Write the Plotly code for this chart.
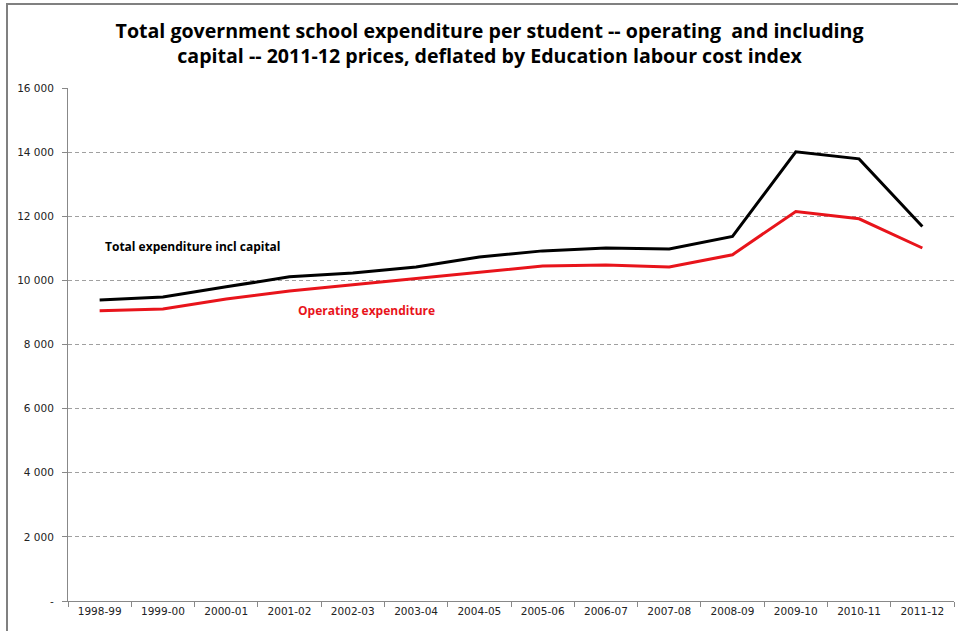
import plotly.graph_objects as go

years = ["1998-99", "1999-00", "2000-01", "2001-02", "2002-03", "2003-04", "2004-05",
         "2005-06", "2006-07", "2007-08", "2008-09", "2009-10", "2010-11", "2011-12"]
total_incl_capital = [9390, 9480, 9800, 10110, 10230, 10420, 10730,
                      10920, 11010, 10980, 11370, 14010, 13790, 11680]
operating = [9050, 9110, 9420, 9670, 9860, 10050, 10260,
             10450, 10480, 10420, 10800, 12150, 11920, 11010]
ytick_vals = [0, 2000, 4000, 6000, 8000, 10000, 12000, 14000, 16000]
ytick_text = ["-", "2 000", "4 000", "6 000", "8 000", "10 000", "12 000", "14 000", "16 000"]

fig = go.Figure()
fig.add_trace(go.Scatter(x=years, y=total_incl_capital, mode="lines",
                         line=dict(color="#000000", width=3), name="Total expenditure incl capital"))
fig.add_trace(go.Scatter(x=years, y=operating, mode="lines",
                         line=dict(color="#E8141B", width=3), name="Operating expenditure"))

L, R, T, B = 68, 4, 88, 30
W, H = 958, 631
pw, ph = W - L - R, H - T - B

fig.update_layout(
    width=W, height=H,
    margin=dict(l=L, r=R, t=T, b=B),
    paper_bgcolor="white", plot_bgcolor="white",
    showlegend=False,
    title=dict(text="Total government school expenditure per student -- operating  and including<br>capital -- 2011-12 prices, deflated by Education labour cost index",
               x=0.511, xanchor="center", y=0.94, yanchor="top",
               font=dict(family="Open Sans", size=19.6, color="#000000", weight="bold")),
    font=dict(family="DejaVu Sans", size=10.5, color="#222222"),
)
fig.update_xaxes(type="category", showline=True, linecolor="#888888", linewidth=1,
                 ticks="outside", tickson="boundaries", ticklen=5, tickcolor="#888888",
                 showgrid=False, tickfont=dict(family="DejaVu Sans", size=10.5, color="#222222"),
                 range=[-0.5, 13.5])
fig.update_yaxes(range=[0, 16000], tickvals=ytick_vals, ticktext=ytick_text,
                 showline=True, linecolor="#888888", linewidth=1,
                 ticks="outside", ticklen=5, tickcolor="#888888",
                 showgrid=True, gridcolor="#a0a0a0", griddash="4px,3px", gridwidth=1,
                 zeroline=False, ticklabelstandoff=6,
                 tickfont=dict(family="DejaVu Sans", size=10.5, color="#222222"))

fig.add_annotation(x=0.06, y=11072, xref="x", yref="y", xanchor="left", yanchor="middle",
                   text="<b>Total expenditure incl capital</b>", showarrow=False,
                   font=dict(family="Open Sans", size=12, color="#000000"))
fig.add_annotation(x=3.1, y=9045, xref="x", yref="y", xanchor="left", yanchor="middle",
                   text="<b>Operating expenditure</b>", showarrow=False,
                   font=dict(family="Open Sans", size=12, color="#E8141B"))

# outer frame (top and left visible)
fig.add_shape(type="rect", xref="paper", yref="paper",
              x0=(7 - L) / pw, x1=(W + 20 - L) / pw,
              y0=-(B + 20) / ph, y1=(H - B - 4) / ph,
              line=dict(color="#808080", width=2), fillcolor="rgba(0,0,0,0)", layer="below")

fig.write_html("out.html")
